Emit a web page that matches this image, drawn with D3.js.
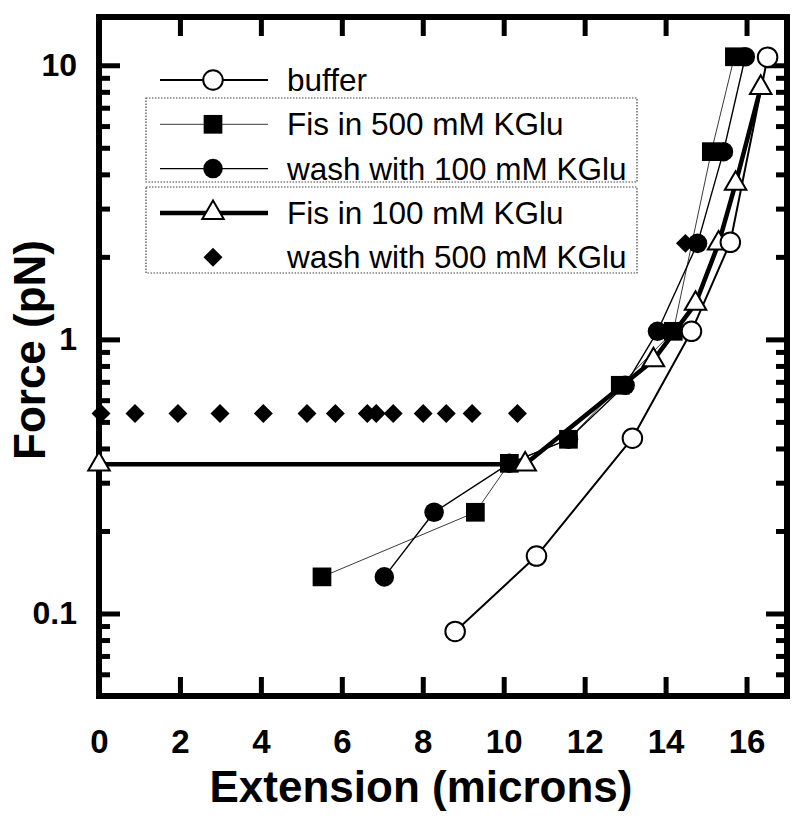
<!DOCTYPE html>
<html>
<head>
<meta charset="utf-8">
<script src="https://cdn.jsdelivr.net/npm/d3@7"></script>
<style>
body { margin: 0; background: #fff; }
text { font-family: "Liberation Sans", Arial, sans-serif; }
</style>
</head>
<body>
<div class="chart-container"></div>
<script>
//Data: extension (microns) and force (pN)
const bufferX = [8.80, 10.81, 13.18, 14.64, 15.60, 16.52];
const bufferY = [0.086, 0.162, 0.436, 1.07, 2.26, 10.7];

const fis500X = [5.51, 9.30, 10.14, 11.60, 12.88, 14.19, 15.13, 15.70];
const fis500Y = [0.136, 0.234, 0.353, 0.432, 0.68, 1.07, 4.84, 10.74];

const wash100X = [7.05, 8.28, 10.14, 11.60, 13.0, 13.80, 14.79, 15.43, 15.97];
const wash100Y = [0.136, 0.234, 0.353, 0.432, 0.68, 1.07, 2.24, 4.84, 10.74];

const fis100X = [0, 10.53, 13.70, 14.74, 15.31, 15.73, 16.35];
const fis100Y = [0.35, 0.35, 0.84, 1.35, 2.24, 3.70, 8.28];

const wash500X = [0.05, 0.89, 1.95, 2.99, 4.06, 5.14, 5.84, 6.63, 6.85, 7.27, 8.01, 8.58, 9.22, 10.34, 14.49];
const wash500Y = [0.537, 0.537, 0.537, 0.537, 0.537, 0.537, 0.537, 0.537, 0.537, 0.537, 0.537, 0.537, 0.537, 0.537, 2.24];

const xTicks = [0, 2, 4, 6, 8, 10, 12, 14, 16];
const yMajor = [0.1, 1, 10];
const yMinor = [0.06, 0.07, 0.08, 0.09, 0.2, 0.3, 0.4, 0.5, 0.6, 0.7, 0.8, 0.9, 2, 3, 4, 5, 6, 7, 8, 9];

const legendLabels = ['buffer', 'Fis in 500 mM KGlu', 'wash with 100 mM KGlu', 'Fis in 100 mM KGlu', 'wash with 500 mM KGlu'];

const zip = (xs, ys) => xs.map((x, i) => ({x: x, y: ys[i]}));

//Series styles
const series = [
    {name: legendLabels[0], data: zip(bufferX, bufferY), line: 2, color: '#000', symbol: d3.symbolCircle, size: 300, fill: '#fff', order: 5},
    {name: legendLabels[1], data: zip(fis500X, fis500Y), line: 1, color: '#3a3a3a', symbol: d3.symbolSquare, size: 350, fill: '#000', order: 2},
    {name: legendLabels[2], data: zip(wash100X, wash100Y), line: 1.4, color: '#000', symbol: d3.symbolCircle, size: 300, fill: '#000', order: 3},
    {name: legendLabels[3], data: zip(fis100X, fis100Y), line: 4.5, color: '#000', symbol: d3.symbolTriangle, size: 200, fill: '#fff', order: 4},
    {name: legendLabels[4], data: zip(wash500X, wash500Y), line: 0, color: '#000', symbol: d3.symbolSquare, size: 180, fill: '#000', rotate: 45, order: 1}
];

//Margin convention
const margin = {top: 17, right: 13, bottom: 128, left: 99};
const width = 800 - margin.left - margin.right;
const height = 824 - margin.top - margin.bottom;

//Scales
const xScale = d3.scaleLinear([0, 17], [0, width]);
const yScale = d3.scaleLog([0.05, 15], [height, 0]);

const svg = d3.select('.chart-container')
    .append('svg')
    .attr('width', 800)
    .attr('height', 824)
    .append('g')
    .attr('transform', `translate(${margin.left}, ${margin.top})`);

//Axes (ticks point inward)
function styleAxis(g){
    g.select('.domain').remove();
    g.selectAll('line').attr('stroke', '#000').attr('stroke-width', 5);
}

svg.append('g')
    .attr('transform', `translate(0, ${height})`)
    .call(d3.axisBottom(xScale).tickValues(xTicks).tickSize(-19).tickPadding(34))
    .call(styleAxis)
    .selectAll('text')
    .style('font-size', '33px').style('font-weight', 'bold').attr('fill', '#000');

svg.append('g')
    .call(d3.axisTop(xScale).tickValues(xTicks.slice(1)).tickSize(-19).tickFormat(''))
    .call(styleAxis);

svg.append('g')
    .call(d3.axisLeft(yScale).tickValues(yMajor).tickSize(-21).tickPadding(22).tickFormat(d3.format('~g')))
    .call(styleAxis)
    .selectAll('text')
    .style('font-size', '32px').style('font-weight', 'bold').attr('fill', '#000');

svg.append('g')
    .call(d3.axisLeft(yScale).tickValues(yMinor).tickSize(-11).tickFormat(''))
    .call(styleAxis);

svg.append('g')
    .attr('transform', `translate(${width}, 0)`)
    .call(d3.axisRight(yScale).tickValues(yMajor).tickSize(-21).tickFormat(''))
    .call(styleAxis);

svg.append('g')
    .attr('transform', `translate(${width}, 0)`)
    .call(d3.axisRight(yScale).tickValues(yMinor).tickSize(-11).tickFormat(''))
    .call(styleAxis);

//Frame
svg.append('rect')
    .attr('width', width).attr('height', height)
    .attr('fill', 'none').attr('stroke', '#000').attr('stroke-width', 6);

//Axis titles
svg.append('text')
    .attr('x', 322).attr('y', height + 106)
    .attr('text-anchor', 'middle')
    .style('font-size', '44px').style('font-weight', 'bold')
    .text('Extension (microns)');

svg.append('text')
    .attr('transform', `translate(${45 - margin.left}, 333) rotate(-90)`)
    .attr('text-anchor', 'middle')
    .style('font-size', '44px').style('font-weight', 'bold')
    .text('Force (pN)');

//Lines
const line = d3.line().x(d => xScale(d.x)).y(d => yScale(d.y));

svg.selectAll('.series-line')
    .data(series.filter(s => s.line > 0))
    .enter()
    .append('path')
    .attr('class', 'series-line')
    .attr('d', s => line(s.data))
    .attr('fill', 'none')
    .attr('stroke', s => s.color)
    .attr('stroke-width', s => s.line)
    .attr('stroke-linejoin', 'round');

//Markers
const sorted = series.slice().sort((a, b) => a.order - b.order);
sorted.forEach(s => {
    svg.selectAll(null)
        .data(s.data)
        .enter()
        .append('path')
        .attr('d', d3.symbol(s.symbol, s.size))
        .attr('transform', d => `translate(${xScale(d.x)}, ${yScale(d.y)}) rotate(${s.rotate || 0})`)
        .attr('fill', s.fill)
        .attr('stroke', '#000')
        .attr('stroke-width', s.fill === '#fff' ? 2 : 0);
});

//Legend
const legend = svg.append('g').attr('transform', `translate(${-margin.left}, ${-margin.top})`);

legend.selectAll('.legend-box')
    .data([[98, 182], [187, 273]])
    .enter()
    .append('rect')
    .attr('x', 146).attr('y', d => d[0])
    .attr('width', 491).attr('height', d => d[1] - d[0])
    .attr('fill', 'none').attr('stroke', '#444').attr('stroke-width', 1.2)
    .attr('stroke-dasharray', '1.5,1.5');

const rows = legend.selectAll('.legend-row')
    .data(series)
    .enter()
    .append('g')
    .attr('transform', (s, i) => `translate(0, ${80 + i * 44.3})`);

rows.filter(s => s.line > 0)
    .append('line')
    .attr('x1', 160).attr('x2', 268)
    .attr('stroke', s => s.color)
    .attr('stroke-width', s => s.line);

rows.append('path')
    .attr('d', s => d3.symbol(s.symbol, s.size)())
    .attr('transform', s => `translate(213, 0) rotate(${s.rotate || 0})`)
    .attr('fill', s => s.fill)
    .attr('stroke', '#000')
    .attr('stroke-width', s => s.fill === '#fff' ? 2 : 0);

rows.append('text')
    .attr('x', 287).attr('y', 11)
    .style('font-size', '31.5px')
    .text(s => s.name);
</script>
</body>
</html>
